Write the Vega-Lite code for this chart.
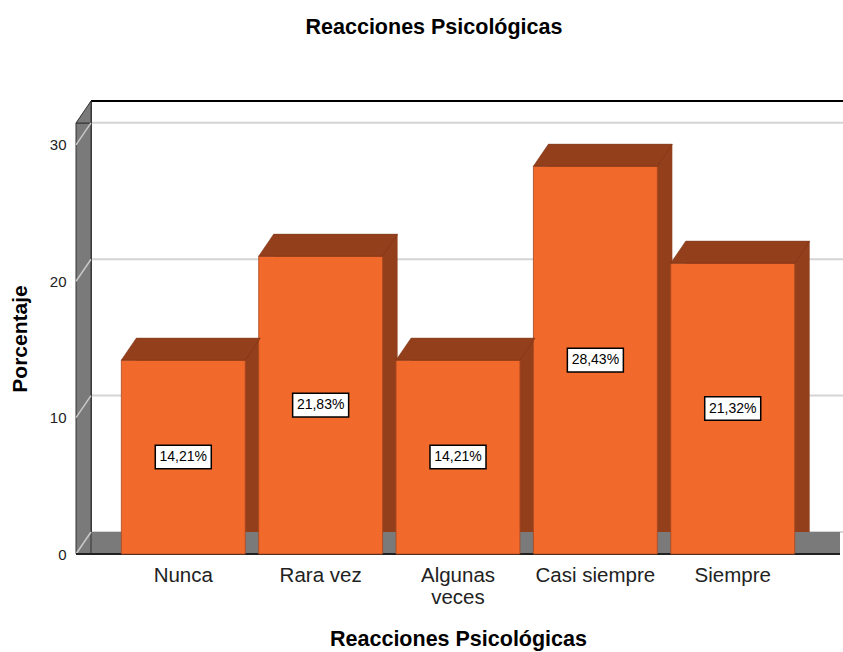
{
  "$schema": "https://vega.github.io/schema/vega-lite/v6.json",
  "width": 764,
  "height": 431,
  "autosize": {"type": "none"},
  "padding": {"left": 76, "top": 123, "right": 3, "bottom": 98},
  "background": "white",
  "config": {"view": {"stroke": null}, "font": "Liberation Sans"},
  "title": {"text": "Reacciones Psicológicas", "fontSize": 21.5, "fontWeight": "bold", "color": "#000000", "dx": -24, "offset": 60, "anchor": "middle"},
  "datasets": {
    "bars": [
      {"categoria": "Nunca", "porcentaje": 14.21, "etiqueta": "14,21%"},
      {"categoria": "Rara vez", "porcentaje": 21.83, "etiqueta": "21,83%"},
      {"categoria": "Algunas veces", "porcentaje": 14.21, "etiqueta": "14,21%"},
      {"categoria": "Casi siempre", "porcentaje": 28.43, "etiqueta": "28,43%"},
      {"categoria": "Siempre", "porcentaje": 21.32, "etiqueta": "21,32%"}
    ],
    "grid": [{"v": 0}, {"v": 10}, {"v": 20}, {"v": 30}],
    "frame": [{"top": 31.6, "base": 0}]
  },
  "resolve": {"scale": {"y": "independent"}},
  "layer": [
    {
      "layer": [
        {
          "data": {"name": "grid"},
          "mark": {"type": "rule", "color": "#d4d4d4", "strokeWidth": 2, "yOffset": -22},
          "encoding": {"x": {"value": 15}, "x2": {"value": {"expr": "width + 15"}}, "y": {"field": "v", "type": "quantitative"}}
        },
        {
          "data": {"name": "frame"},
          "mark": {"type": "rule", "color": "#000000", "strokeWidth": 2, "yOffset": -22},
          "encoding": {"x": {"value": 15}, "x2": {"value": {"expr": "width + 15"}}, "y": {"field": "top", "type": "quantitative"}}
        },
        {
          "data": {"name": "frame"},
          "mark": {"type": "rect", "color": "#7a7a7a", "y2Offset": -22, "x2Offset": 15},
          "encoding": {"y": {"field": "base", "type": "quantitative"}, "y2": {"field": "base"}}
        },
        {
          "data": {"name": "frame"},
          "mark": {"type": "rule", "color": "#000000", "strokeWidth": 1.5, "yOffset": -22, "y2Offset": -22},
          "encoding": {"x": {"value": 15}, "y": {"field": "top", "type": "quantitative"}, "y2": {"field": "base"}}
        },
        {
          "data": {"name": "frame"},
          "mark": {"type": "rect", "color": "#7a7a7a", "stroke": "#333333", "strokeWidth": 1},
          "encoding": {"x": {"value": 0}, "x2": {"value": 15}, "y": {"field": "top", "type": "quantitative"}, "y2": {"field": "base"}}
        },
        {
          "data": {"name": "frame"},
          "mark": {"type": "point", "shape": "M 0 0 L 1 -1.4667 L 1 0 Z", "size": 900, "filled": true, "opacity": 1, "color": "#7a7a7a", "stroke": "#333333", "strokeWidth": 1},
          "encoding": {"x": {"value": 0}, "y": {"field": "top", "type": "quantitative"}}
        },
        {
          "data": {"name": "grid"},
          "mark": {"type": "rule", "color": "#c8c8c8", "strokeWidth": 1.5, "y2Offset": -22},
          "encoding": {"x": {"value": 0}, "x2": {"value": 15}, "y": {"field": "v", "type": "quantitative"}, "y2": {"field": "v"}}
        },
        {
          "data": {"name": "frame"},
          "mark": {"type": "rule", "color": "#222222", "strokeWidth": 2},
          "encoding": {"y": {"field": "base", "type": "quantitative"}}
        },
        {
          "data": {"name": "bars"},
          "mark": {"type": "bar", "color": "#943f1c", "xOffset": 15, "yOffset": -22, "y2Offset": -22},
          "encoding": {
            "x": {"field": "categoria", "type": "nominal", "sort": null},
            "y": {"field": "porcentaje", "type": "quantitative"}
          }
        },
        {
          "data": {"name": "bars"},
          "mark": {"type": "bar", "color": "#f2692c", "stroke": "#a8481f", "strokeWidth": 0.8},
          "encoding": {
            "x": {
              "field": "categoria", "type": "nominal", "sort": null,
              "scale": {"paddingInner": 0.098, "paddingOuter": 0.33},
              "axis": {
                "title": "Reacciones Psicológicas", "titleFontSize": 21.5, "titleFontWeight": "bold", "titleColor": "#000000", "titlePadding": 21,
                "labelAngle": 0, "labelAlign": "center", "labelFontSize": 20.5, "labelColor": "#222222", "labelPadding": 21, "labelLineHeight": 22,
                "labelExpr": "datum.label == 'Algunas veces' ? ['Algunas', 'veces'] : datum.label",
                "domain": false, "ticks": false, "grid": false
              }
            },
            "y": {
              "field": "porcentaje", "type": "quantitative",
              "scale": {"domain": [0, 31.6], "nice": false},
              "axis": {
                "title": "Porcentaje", "titleFontSize": 21, "titleFontWeight": "bold", "titleColor": "#000000", "titlePadding": 19,
                "values": [0, 10, 20, 30], "labelFontSize": 15, "labelColor": "#222222", "labelPadding": 10,
                "domain": false, "ticks": false, "grid": false
              }
            }
          }
        },
        {
          "data": {"name": "bars"},
          "mark": {"type": "point", "shape": "M -1 0 L 1 0 L 1.242 -0.355 L -0.758 -0.355 Z", "size": 15376, "filled": true, "opacity": 1, "color": "#943f1c", "stroke": "#7a3214", "strokeWidth": 0.6},
          "encoding": {
            "x": {"field": "categoria", "type": "nominal", "sort": null},
            "y": {"field": "porcentaje", "type": "quantitative"}
          }
        }
      ]
    },
    {
      "data": {"name": "bars"},
      "encoding": {
        "x": {"field": "categoria", "type": "nominal", "sort": null},
        "y": {"field": "porcentaje", "type": "quantitative", "scale": {"domain": [0, 63.2], "nice": false}, "axis": null}
      },
      "layer": [
        {
          "mark": {"type": "point", "shape": "M -1 -0.42 L 1 -0.42 L 1 0.42 L -1 0.42 Z", "size": 3136, "filled": true, "opacity": 1, "fill": "#ffffff", "stroke": "#000000", "strokeWidth": 1.5}
        },
        {
          "mark": {"type": "text", "fontSize": 14, "color": "#000000", "align": "center", "baseline": "middle"},
          "encoding": {"text": {"field": "etiqueta"}}
        }
      ]
    }
  ]
}
